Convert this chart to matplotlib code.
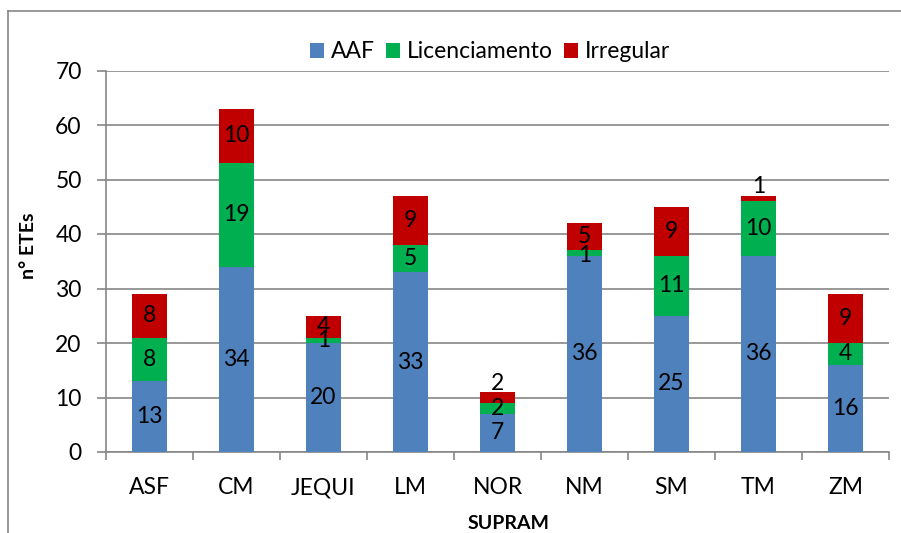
import matplotlib.pyplot as plt
import numpy as np
from matplotlib.lines import Line2D

plt.rcParams['font.family'] = ['Lato', 'DejaVu Sans']

categories = ["ASF", "CM", "JEQUI", "LM", "NOR", "NM", "SM", "TM", "ZM"]
aaf = [13, 34, 20, 33, 7, 36, 25, 36, 16]
licenciamento = [8, 19, 1, 5, 2, 1, 11, 10, 4]
irregular = [8, 10, 4, 9, 2, 5, 9, 1, 9]

series = [("AAF", aaf, "#4F81BD"),
          ("Licenciamento", licenciamento, "#00B050"),
          ("Irregular", irregular, "#C00000")]

# labels Excel pushed above small top segments (points)
label_shift = {(4, 2): 10, (7, 2): 9, (5, 1): -2}

fig = plt.figure(figsize=(9.01, 5.33), dpi=100)
ax = fig.add_axes([106/901, 1 - 452/533, 783/901, 381.5/533])

x = np.arange(len(categories))
bottom = np.zeros(len(categories))
for s, (name, vals, color) in enumerate(series):
    vals = np.array(vals)
    ax.bar(x, vals, 0.4, bottom=bottom, color=color, label=name, zorder=3)
    for i, v in enumerate(vals):
        dy = label_shift.get((i, s), 0)
        ax.annotate(str(v), (x[i], bottom[i] + v / 2), xytext=(0, dy),
                    textcoords="offset points", ha="center", va="center",
                    fontsize=16.5, zorder=4)
    bottom += vals

gray = "#868686"
ax.set_xlim(-0.5, len(categories) - 0.5)
ax.set_ylim(0, 70)
ax.set_yticks(range(0, 71, 10))
ax.yaxis.grid(True, color=gray, linewidth=1.2, zorder=0)
ax.set_xticks(x)
ax.set_xticklabels(categories)
ax.set_xticks(np.arange(-0.5, len(categories), 1), minor=True)
ax.tick_params(axis="x", which="major", length=0, pad=18, labelsize=16.5)
ax.tick_params(axis="x", which="minor", length=6, color=gray, width=1.2)
ax.tick_params(axis="y", length=6.5, color=gray, width=1.2, pad=11, labelsize=16.5)
for side in ["top", "right"]:
    ax.spines[side].set_visible(False)
for side in ["left", "bottom"]:
    ax.spines[side].set_color(gray)
    ax.spines[side].set_linewidth(1.2)

ax.set_xlabel("SUPRAM", fontsize=14, fontweight="bold")
ax.xaxis.set_label_coords(0.514, -0.165)
ax.set_ylabel("n° ETEs", fontsize=14, fontweight="bold")
ax.yaxis.set_label_coords(-0.088, 0.54)

ax.legend(loc="center", bbox_to_anchor=(490/901, 1 - 52/533),
          bbox_transform=fig.transFigure, ncol=3, frameon=False, fontsize=16.5,
          handlelength=0.6, handleheight=0.6, handletextpad=0.3,
          columnspacing=0.5)

# chart area border (cut off at right and bottom)
fig.add_artist(Line2D([8/901, 8/901], [0, 1 - 11/533], color=gray, linewidth=1.2))
fig.add_artist(Line2D([8/901, 1], [1 - 11/533, 1 - 11/533], color=gray, linewidth=1.2))

plt.savefig("out.png", dpi=100)
